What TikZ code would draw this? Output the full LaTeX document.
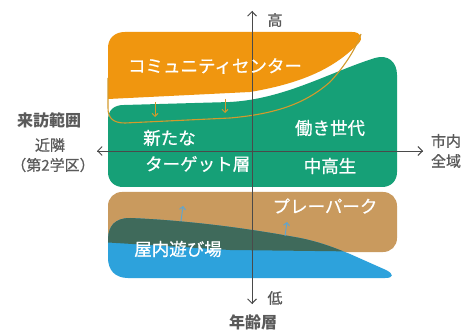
\documentclass[tikz,border=0pt]{standalone}
\usepackage{fontspec}
\setmainfont{Noto Sans CJK JP}
\newfontfamily\jpmed{Noto Sans CJK JP}[FakeBold=0.6]
\usetikzlibrary{arrows.meta}
\definecolor{cOrange}{HTML}{F0960F}
\definecolor{cGold}{HTML}{D39A2C}
\definecolor{cGreen}{HTML}{16A077}
\definecolor{cTan}{HTML}{C99A5E}
\definecolor{cBlue}{HTML}{2DA2DC}
\definecolor{cDark}{HTML}{3F6A5B}
\definecolor{cAxis}{HTML}{4A4A4A}
\definecolor{cLabel}{HTML}{5A5A5A}
\definecolor{cUp}{HTML}{5AA6D6}
\begin{document}
\begin{tikzpicture}[x=1pt,y=-1pt,
  axisline/.style={draw=cAxis, line width=0.9pt, -{Straight Barb[length=4.5pt,width=9pt]}},
  smallarrow/.style={line width=0.9pt, -{Straight Barb[length=3pt,width=6pt]}},
  lbl/.style={text=cLabel, font=\jpmed\fontsize{15}{16}\selectfont, inner sep=0pt},
  lblbold/.style={text=cLabel, font=\fontsize{16}{17}\selectfont\bfseries, inner sep=0pt},
  inner/.style={text=white, font=\jpmed\fontsize{17.5}{19}\selectfont, inner sep=0pt}]
\useasboundingbox (0,0) rectangle (471,331);
\fill[white] (0,0) rectangle (471,331);

% orange: community center
\fill[cOrange] (108,99) -- (108,48) .. controls (108,38) and (115,32) .. (125,32)
  -- (352,32) .. controls (361,32) and (364,38) .. (358,44)
  .. controls (338,64) and (310,82) .. (250,92) -- (108,99) -- cycle;

% green: new target / working / high school
\fill[cGreen] (108,120) .. controls (108,110) and (114,105) .. (124,105)
  -- (230,102) .. controls (285,99) and (330,72) .. (375,58)
  .. controls (388,54) and (397,62) .. (397,75)
  -- (397,172) .. controls (397,181) and (391,187) .. (382,187)
  -- (123,187) .. controls (114,187) and (108,181) .. (108,172) -- cycle;

% gold outline
\draw[cGold, line width=1.1pt] (108,78) -- (108,108) .. controls (108,118) and (113,123) .. (125,123)
  -- (230,118) .. controls (275,114) and (305,104) .. (330,82)
  .. controls (345,66) and (356,48) .. (361,34);

% tan: play park
\fill[cTan] (108,206) .. controls (108,198) and (114,192) .. (122,192) -- (383,192)
  .. controls (391,192) and (397,198) .. (397,206) -- (397,238)
  .. controls (397,246) and (391,252) .. (383,252) -- (122,252)
  .. controls (114,252) and (108,246) .. (108,238) -- cycle;

% blue: indoor playground
\fill[cBlue] (108,240) .. controls (108,226) and (115,218) .. (130,218)
  .. controls (200,221) and (262,231) .. (300,238)
  .. controls (320,242) and (335,248) .. (350,254) -- (386,270)
  .. controls (394,274) and (394,278) .. (385,278)
  -- (128,278) .. controls (115,278) and (108,270) .. (108,258) -- cycle;
\begin{scope}
\clip (100,200) -- (400,200) -- (400,252) -- (230,250) -- (100,242) -- cycle;
\fill[cDark] (108,240) .. controls (108,226) and (115,218) .. (130,218)
  .. controls (200,221) and (262,231) .. (300,238)
  .. controls (320,242) and (335,248) .. (350,254) -- (386,270)
  .. controls (394,274) and (394,278) .. (385,278)
  -- (128,278) .. controls (115,278) and (108,270) .. (108,258) -- cycle;
\end{scope}

% small arrows
\coordinate (d1s) at (155,102); \coordinate (d1e) at (155,117);
\coordinate (d2s) at (225,99);  \coordinate (d2e) at (225,113);
\draw[smallarrow, cGold] (d1s) -- (d1e);
\draw[smallarrow, cGold] (d2s) -- (d2e);
\coordinate (u1s) at (181,221); \coordinate (u1e) at (183,206);
\coordinate (u2s) at (285,236); \coordinate (u2e) at (287,222);
\draw[smallarrow, cUp] (u1s) -- (u1e);
\draw[smallarrow, cUp] (u2s) -- (u2e);

% axes
\coordinate (ytop) at (252,11);
\coordinate (ybot) at (252,304);
\coordinate (xleft) at (97,151);
\coordinate (xright) at (423,151);
\draw[axisline] (ybot) -- (ytop);
\draw[axisline] (ytop) -- (ybot);
\draw[axisline] (xright) -- (xleft);
\draw[axisline] (xleft) -- (xright);

% inner texts
\node[inner] (cc) at (215,66) {コミュニティセンター};
\node[inner, anchor=west] (nt1) at (143,138) {新たな};
\node[inner, anchor=west] (nt2) at (145,164) {ターゲット層};
\node[inner] (hw) at (330,128) {働き世代};
\node[inner] (hs) at (330,166) {中高生};
\node[inner] (pp) at (325,206) {プレーパーク};
\node[inner] (ip) at (178,249) {屋内遊び場};

% axis labels
\node[lbl] (hi) at (275,20) {高};
\node[lbl] (lo) at (275,298) {低};
\node[lblbold] (age) at (253,322) {年齢層};
\node[lbl] (city1) at (446,141) {市内};
\node[lbl] (city2) at (446,161) {全域};
\node[lblbold] (visit) at (49,120) {来訪範囲};
\node[lbl] (near1) at (50,145) {近隣};
\node[lbl] (near2) at (53,165) {（第2学区）};
\end{tikzpicture}
\end{document}
